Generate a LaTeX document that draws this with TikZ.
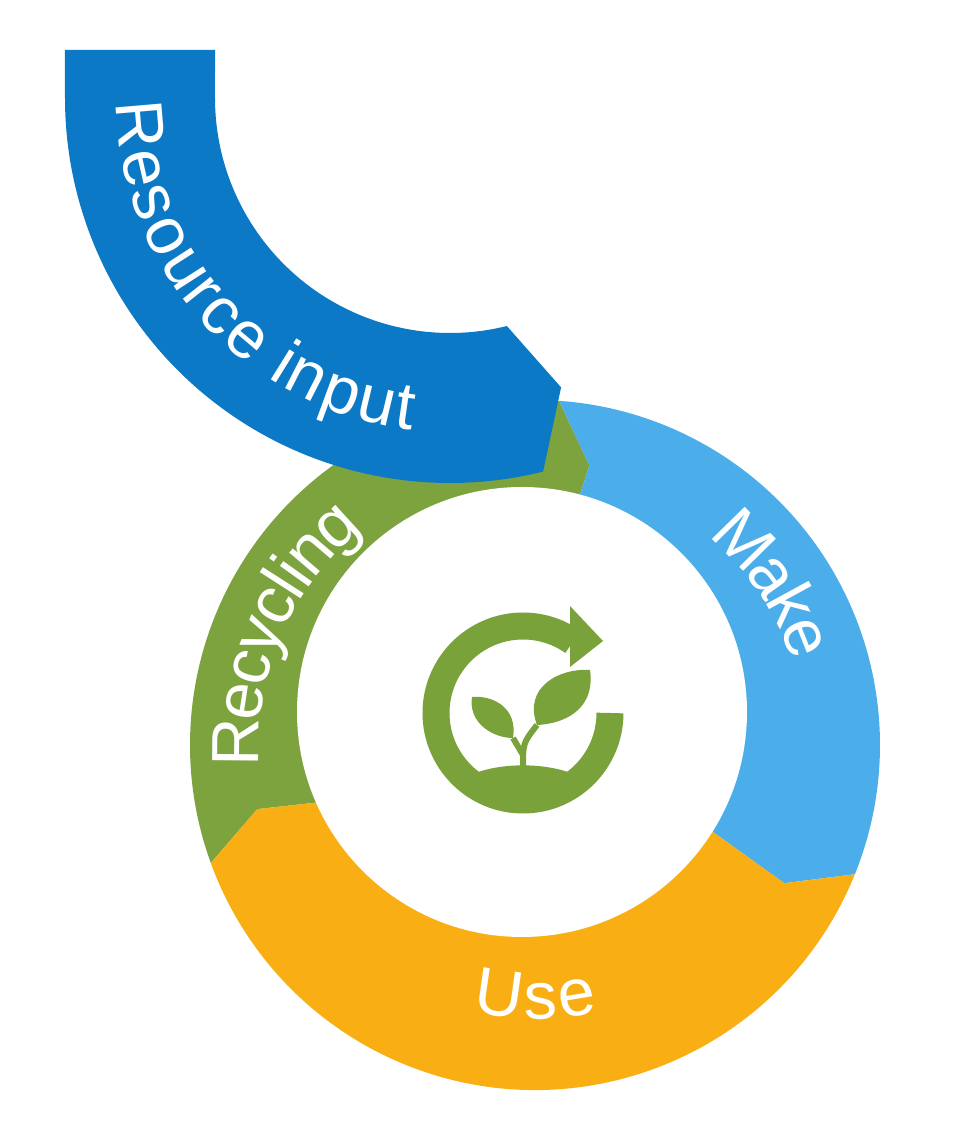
\documentclass[tikz,border=0pt]{standalone}
\usepackage{fontspec}
\setsansfont{Liberation Sans}
\usepackage{tikz}
\usetikzlibrary{calc,decorations.text}

\definecolor{resblue}{HTML}{0C79C6}
\definecolor{makeblue}{HTML}{4BAEEA}
\definecolor{recgreen}{HTML}{7DA33F}
\definecolor{useorange}{HTML}{F9AF14}
\definecolor{icongreen}{HTML}{7AA23A}

% ring segment: colour, start angle, end angle (clockwise)
\newcommand{\ringseg}[3]{%
  \fill[#1] (#2:3.45) arc[start angle=#2, end angle=#3, radius=3.45]
    -- ({#3-7}:2.85) -- (#3:1.4) arc[start angle=#3, end angle=#2, radius=1.4]
    -- ({#2-7}:2.85) -- cycle;}

\begin{document}
\begin{tikzpicture}[
    seglabel/.style={decorate, decoration={text along path, text align=center, raise=-0.24cm,
        text={|\sffamily\fontsize{19}{22}\selectfont\color{white}|#1}}}
]
    % --- background / bounding box ---
    \fill[white] (0,0) rectangle (9.62,11.28);
    \useasboundingbox (0,0) rectangle (9.62,11.28);

    % --- the cycle ring ---
    \begin{scope}[shift={(5.35,3.83)}]
        \ringseg{recgreen}{200}{86}
        \ringseg{makeblue}{86}{-22}
        \ringseg{useorange}{-22}{-160}
    \end{scope}

    % inner white disc
    \fill[white] (5.22,4.16) circle[radius=2.25];

    % --- resource input band ---
    \begin{scope}[shift={(4.5,10.3)}]
        \fill[resblue] (-3.85,0.48) -- (180:3.85) arc[start angle=180, end angle=284, radius=3.85]
            -- (291:3.1) -- (284:2.35) arc[start angle=284, end angle=180, radius=2.35]
            -- (-2.35,0.48) -- cycle;
        \path[seglabel={Resource input}] (170:3.1) arc[start angle=170, end angle=274, radius=3.1];
    \end{scope}

    % --- ring labels ---
    \begin{scope}[shift={(5.35,3.83)}]
        \path[seglabel={Make}] (62:2.95) arc[start angle=62, end angle=6, radius=2.95];
        \path[seglabel={Recycling}] (207:3.0) arc[start angle=207, end angle=106, radius=3.0];
        \path[seglabel={Use}] (245:2.5) arc[start angle=245, end angle=295, radius=2.5];
    \end{scope}

    % --- centre icon ---
    \begin{scope}[shift={(5.23,4.15)}]
        \draw[icongreen, line width=0.27cm] (0:0.87) arc[start angle=0, end angle=-305, radius=0.87];
        \fill[icongreen] (0.47,0.46) -- (0.47,1.07) -- (0.8,0.72) -- cycle;
        \fill[icongreen] (228:0.88) arc[start angle=228, end angle=312, radius=0.88]
            .. controls (0.3,-0.48) and (-0.3,-0.48) .. cycle;
        \draw[icongreen, line width=0.06cm] (0,-0.55) .. controls (0,-0.3) .. (0.14,-0.12);
        \draw[icongreen, line width=0.06cm] (0,-0.42) -- (-0.1,-0.25);
        \fill[icongreen] (0.14,-0.12) .. controls (0.0,0.25) and (0.35,0.45) .. (0.67,0.43)
            .. controls (0.72,0.1) and (0.5,-0.1) .. cycle;
        \fill[icongreen] (-0.1,-0.25) .. controls (-0.05,0.05) and (-0.3,0.18) .. (-0.51,0.16)
            .. controls (-0.55,-0.1) and (-0.3,-0.25) .. cycle;
    \end{scope}
\end{tikzpicture}
\end{document}
